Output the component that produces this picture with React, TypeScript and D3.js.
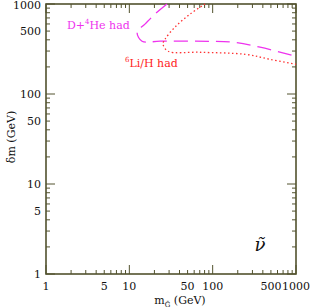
import { useEffect, useRef } from "react";
import * as d3 from "d3";

// m_gravitino (GeV) vs delta m (GeV) bounds for the sneutrino NLSP case
const dHeHad: [number, number][] = [
  [28.3, 1000], [20.3, 773], [15.4, 598], [12.4, 487], [14.2, 386],
  [23.4, 386], [93, 385], [175, 376], [370, 331], [1000, 262],
];
const li6Had: [number, number][] = [
  [81, 1000], [53.5, 773], [35.3, 553], [26.8, 406], [25.4, 357],
  [29.1, 299], [70.5, 291], [244, 276], [488, 243], [1000, 214],
];
const xTickLabels = [1, 5, 10, 50, 100, 500, 1000];
const yTickLabels = [1, 5, 10, 50, 100, 500, 1000];

const W = 312;
const H = 308;
const AXIS = "#52522e";
const FONT = "DejaVu Serif";

export default function App() {
  const ref = useRef<SVGSVGElement | null>(null);

  useEffect(() => {
    const svg = d3.select(ref.current);
    svg.selectAll("*").remove();

    const m = { left: 46, right: 16, top: 4, bottom: 34 };
    const x = d3.scaleLog().domain([1, 1000]).range([m.left, W - m.right]);
    const y = d3.scaleLog().domain([1, 1000]).range([H - m.bottom, m.top]);

    const g = svg.append("g");

    // minor + major ticks on all four sides, pointing inward
    const minor: number[] = [];
    for (let d = 1; d < 1000; d *= 10) {
      for (let k = 1; k < 10; k++) minor.push(d * k);
    }
    minor.push(1000);
    const isMajor = (v: number) => Math.abs(Math.log10(v) % 1) < 1e-9;

    const ticks = g.append("g").attr("stroke", AXIS).attr("stroke-width", 1);
    minor.forEach((v) => {
      const len = isMajor(v) ? 9 : 4;
      const px = x(v);
      const py = y(v);
      ticks.append("line").attr("x1", px).attr("x2", px)
        .attr("y1", y(1)).attr("y2", y(1) - len);
      ticks.append("line").attr("x1", px).attr("x2", px)
        .attr("y1", y(1000)).attr("y2", y(1000) + len);
      ticks.append("line").attr("y1", py).attr("y2", py)
        .attr("x1", x(1)).attr("x2", x(1) + len);
      ticks.append("line").attr("y1", py).attr("y2", py)
        .attr("x1", x(1000)).attr("x2", x(1000) - len);
    });

    g.append("rect")
      .attr("x", x(1)).attr("y", y(1000))
      .attr("width", x(1000) - x(1)).attr("height", y(1) - y(1000))
      .attr("fill", "none").attr("stroke", AXIS).attr("stroke-width", 1.6);

    const line = d3.line<[number, number]>()
      .x((d) => x(d[0])).y((d) => y(d[1]))
      .curve(d3.curveCatmullRom.alpha(0.5));

    g.append("path").datum(dHeHad).attr("d", line)
      .attr("fill", "none").attr("stroke", "#ee33ee").attr("stroke-width", 1.3)
      .attr("stroke-dasharray", "14,7");
    g.append("path").datum(li6Had).attr("d", line)
      .attr("fill", "none").attr("stroke", "#ff3333").attr("stroke-width", 1.3)
      .attr("stroke-dasharray", "1.5,2.5");

    const txt = g.append("g").attr("font-family", FONT).attr("font-size", 11).attr("fill", "#111");
    xTickLabels.forEach((v) => {
      txt.append("text").attr("x", x(v)).attr("y", y(1) + 16)
        .attr("text-anchor", "middle").text(v);
    });
    yTickLabels.forEach((v) => {
      txt.append("text").attr("x", x(1) - 5).attr("y", v === 1000 ? y(v) + 5 : y(v) + 4)
        .attr("text-anchor", "end").text(v);
    });

    // axis titles
    const xl = txt.append("text").attr("x", 180).attr("y", 304).attr("text-anchor", "middle");
    xl.append("tspan").text("m");
    xl.append("tspan").attr("font-size", 7).attr("dy", 3).text("G\u0303");
    xl.append("tspan").attr("dy", -3).text(" (GeV)");

    txt.append("text")
      .attr("transform", `translate(15,${(y(1) + y(1000)) / 2 - 2}) rotate(-90)`)
      .attr("text-anchor", "middle").text("\u03b4m (GeV)");

    // curve labels
    const l1 = g.append("text").attr("x", 67).attr("y", 29)
      .attr("font-family", FONT).attr("font-size", 11).attr("fill", "#ee33ee");
    l1.append("tspan").text("D+");
    l1.append("tspan").attr("font-size", 7).attr("dy", -5).text("4");
    l1.append("tspan").attr("dy", 5).text("He had");

    const l2 = g.append("text").attr("x", 125).attr("y", 67)
      .attr("font-family", FONT).attr("font-size", 11).attr("fill", "#ff2222");
    l2.append("tspan").attr("font-size", 7).attr("dy", -5).text("6");
    l2.append("tspan").attr("dy", 5).text("Li/H had");

    // sneutrino symbol: nu with combining tilde
    g.append("text").attr("x", 260).attr("y", 251).attr("text-anchor", "middle")
      .attr("font-family", FONT).attr("font-style", "italic").attr("font-size", 18)
      .attr("fill", "#111").text("\u03bd\u0303");
  }, []);

  return <svg ref={ref} width={W} height={H} style={{ position: "absolute", left: 0, top: 0 }} />;
}
